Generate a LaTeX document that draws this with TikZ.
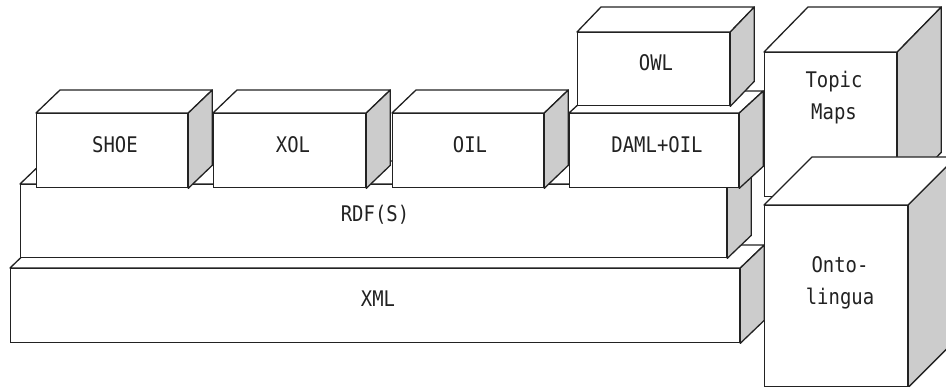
\documentclass[tikz,border=0pt]{standalone}
\usepackage{fontspec}
\newfontfamily\lblfont[FakeStretch=0.88]{DejaVu Sans Mono}
\definecolor{sidegray}{HTML}{CCCCCC}
\definecolor{inkc}{HTML}{222222}
\tikzset{
  face/.style={draw=inkc, line width=1.3pt, fill=white, inner sep=0pt, rectangle},
  edge/.style={draw=inkc, line width=1.3pt, line join=round},
  lbl/.style={inner sep=0pt, text=inkc, font=\lblfont\fontsize{21.5}{32}\selectfont},
}
% name, x, y (top-left of front), width, height, dx, dy (depth offset, up = positive)
\newcommand\cubx[7]{%
  \node[face, anchor=north west, minimum width=#4pt, minimum height=#5pt] (#1) at (#2,#3) {};
  \draw[edge, fill=white] (#1.north west) -- ++(#6,-#7) -- ([shift={(#6,-#7)}]#1.north east) -- (#1.north east) -- cycle;
  \draw[edge, fill=sidegray] (#1.north east) -- ++(#6,-#7) -- ([shift={(#6,-#7)}]#1.south east) -- (#1.south east) -- cycle;
}
\begin{document}
\begin{tikzpicture}[x=1pt, y=-1pt]
\clip (0,0) rectangle (946,387);
\fill[white] (0,0) rectangle (946,387);
% base layers
\cubx{xml}{10}{268}{729}{74}{24}{23}
\cubx{rdf}{20}{184}{706}{73}{24}{23}
% languages on top of RDF(S)
\cubx{shoe}{36}{113}{151}{74}{24}{23}
\cubx{xol}{213}{113}{152}{74}{24}{23}
\cubx{oil}{392}{113}{151}{74}{24}{23}
\cubx{daml}{569}{113}{169}{74}{24}{22}
\cubx{owl}{577}{32}{152}{73}{24}{25}
% right-hand blocks
\cubx{topic}{764}{52}{132}{144}{44}{45}
\cubx{onto}{764}{205}{143}{181}{48}{48}
% labels
\node[lbl, anchor=base] (xmlt) at (378,307) {XML};
\node[lbl, anchor=base] (rdft) at (375,222) {RDF(S)};
\node[lbl, anchor=base] (shoet) at (115,153) {SHOE};
\node[lbl, anchor=base] (xolt) at (293,153) {XOL};
\node[lbl, anchor=base] (oilt) at (470,153) {OIL};
\node[lbl, anchor=base] (damlt) at (657,153) {DAML+OIL};
\node[lbl, anchor=base] (owlt) at (656,71) {OWL};
\node[lbl, anchor=north, align=center] (topict) at (834,71) {Topic\\Maps};
\node[lbl, anchor=north, align=center] (ontot) at (840,256) {Onto-\\lingua};
\end{tikzpicture}
\end{document}
